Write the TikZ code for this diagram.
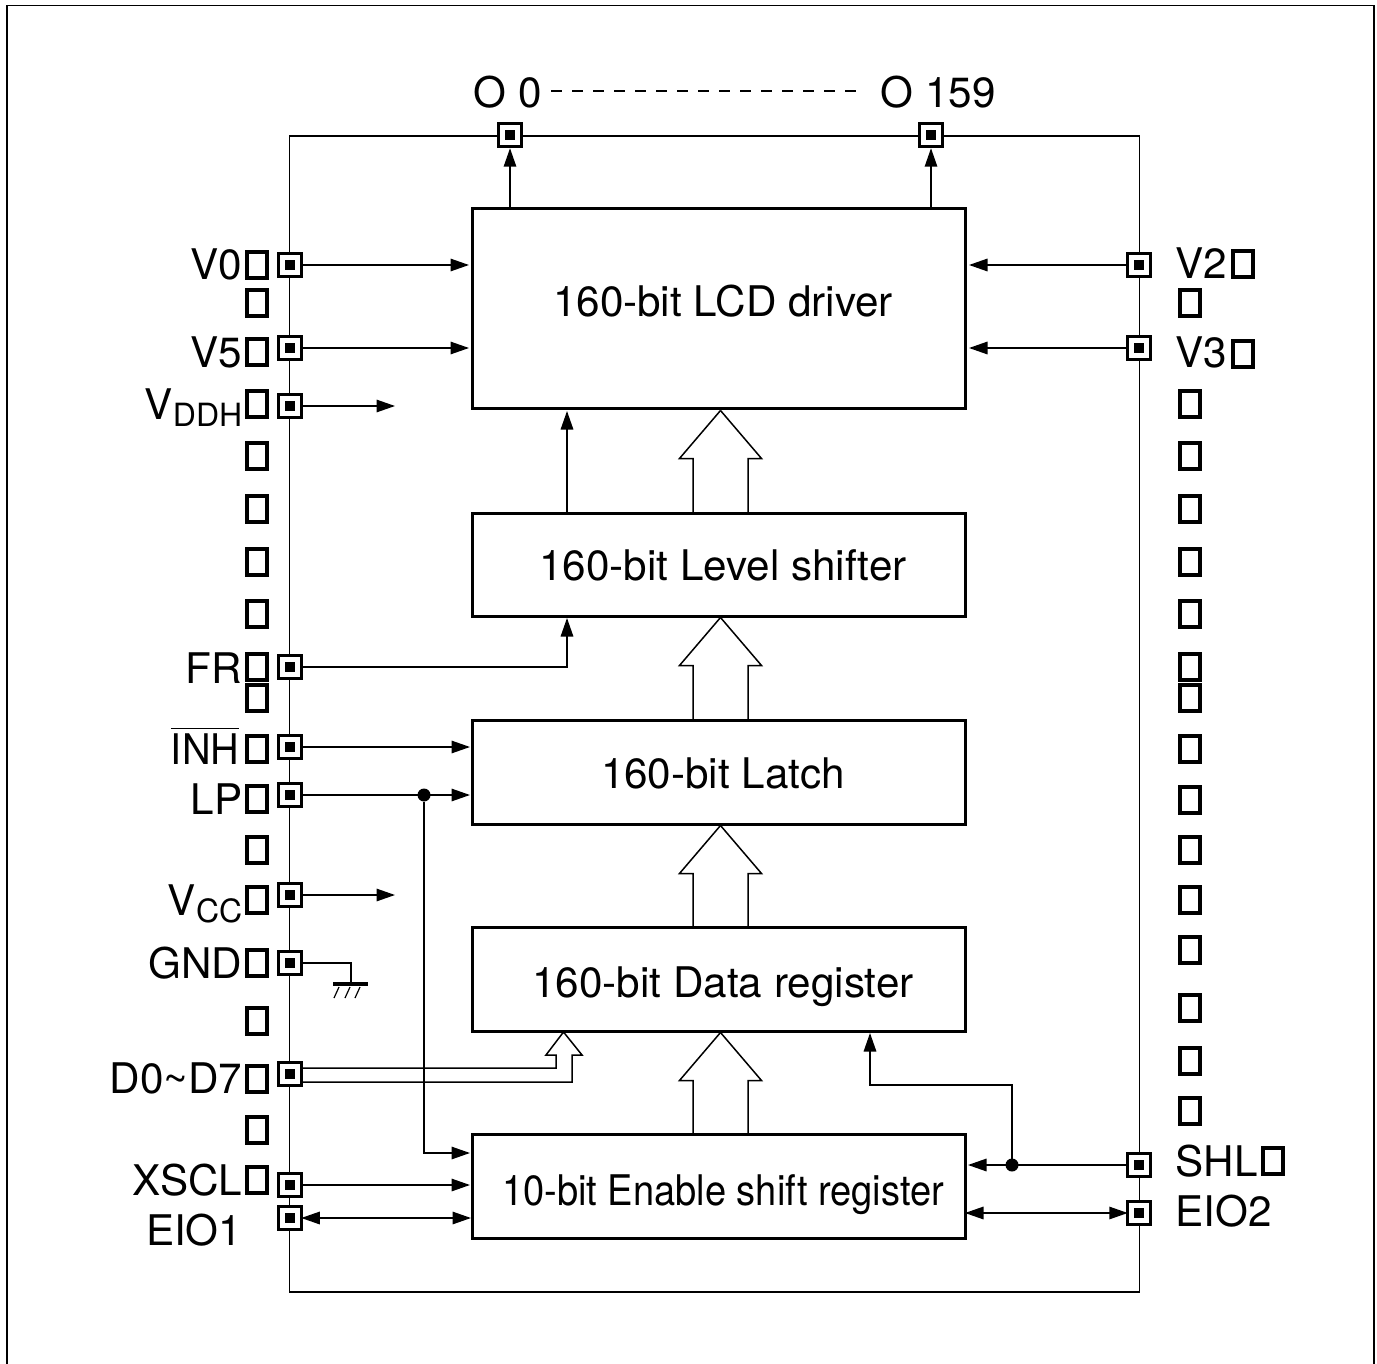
\documentclass[tikz,border=0pt]{standalone}
\usepackage{fontspec}
\setmainfont{TeX Gyre Heros}
\usetikzlibrary{arrows.meta}

\tikzset{
  block/.style={draw, line width=3pt, outer sep=0pt, inner sep=0pt, anchor=north west},
  blocktext/.style={anchor=base, inner sep=0pt},
  pad/.style={draw, fill=white, line width=3pt, minimum size=22.5pt, inner sep=0pt, outer sep=0pt,
    path picture={\fill [black] ([shift={(-5pt,-5pt)}]path picture bounding box.center) rectangle ([shift={(5pt,5pt)}]path picture bounding box.center);}},
  gapbox/.style={draw, line width=3.6pt, minimum width=20pt, minimum height=26pt, inner sep=0pt, outer sep=0pt},
  pinl/.style={anchor=base east, inner sep=0pt},
  pinr/.style={anchor=base west, inner sep=0pt},
  tap/.style={circle, fill, minimum size=13pt, inner sep=0pt, outer sep=0pt},
}

\begin{document}
\begin{tikzpicture}[x=1pt, y=-1pt, line width=1.5pt,
    >={Stealth[inset=0pt, length=18.5pt, width=12.5pt]},
    every node/.append style={font=\fontsize{42.2}{50}\selectfont}]
  \useasboundingbox (0,0) rectangle (1377,1364);

  % page frame and chip outline
  \draw (7,1364) -- (7,5.5) -- (1374,5.5) -- (1374,1364);
  \draw (289.5,136) rectangle (1139.5,1292);

  % blocks
  \node [block, minimum width=493pt, minimum height=200pt] (lcd)    at (472,209)  {};
  \node [block, minimum width=493pt, minimum height=103pt] (level)  at (472,513)  {};
  \node [block, minimum width=493pt, minimum height=104pt] (latch)  at (472,720)  {};
  \node [block, minimum width=493pt, minimum height=104pt] (data)   at (472,927)  {};
  \node [block, minimum width=493pt, minimum height=104pt] (enable) at (472,1134) {};

  \node [blocktext] (lcdtext)    at (723,317)  {160-bit LCD driver};
  \node [blocktext] (leveltext)  at (723,580)  {160-bit Level shifter};
  \node [blocktext] (latchtext)  at (723,788)  {160-bit Latch};
  \node [blocktext] (datatext)   at (723,997)  {160-bit Data register};
  \node [blocktext, xscale=0.902] (enabletext) at (723,1205) {10-bit Enable shift register};

  % pads
  \node [pad] (o0)   at (510,135)   {};
  \node [pad] (o159) at (931,135)   {};
  \node [pad] (v0)   at (290,265)   {};
  \node [pad] (v5)   at (290,348)   {};
  \node [pad] (vddh) at (290,406)   {};
  \node [pad] (fr)   at (290,667)   {};
  \node [pad] (inh)  at (290,747)   {};
  \node [pad] (lp)   at (290,795)   {};
  \node [pad] (vcc)  at (290,895)   {};
  \node [pad] (gnd)  at (290,963)   {};
  \node [pad] (dbus) at (290,1074)  {};
  \node [pad] (xscl) at (290,1185)  {};
  \node [pad] (eio1) at (290,1218)  {};
  \node [pad] (v2)   at (1139,265)  {};
  \node [pad] (v3)   at (1139,348)  {};
  \node [pad] (shl)  at (1139,1165) {};
  \node [pad] (eio2) at (1139,1213) {};

  % pin names
  \node [anchor=base, inner sep=0pt] (o0name)   at (508,108) {O 0};
  \node [anchor=base, inner sep=0pt] (o159name) at (938,108) {O 159};
  \draw [line width=2.4pt, dash pattern=on 11pt off 10pt] (551,91) -- (856.5,91);

  \node [pinl] (v0name)   at (243,280)  {V0};
  \node [pinl] (v5name)   at (243,368)  {V5};
  \node [pinl] (vddhname) at (243,420)  {V\raisebox{-7pt}{\fontsize{32}{38}\selectfont DDH}};
  \node [pinl] (frname)   at (243,683)  {FR};
  \node [pinl, xscale=0.94] (inhname)  at (240,764)  {$\overline{\mbox{\rule{0pt}{34pt}INH}}$};
  \node [pinl] (lpname)   at (243,814)  {LP};
  \node [pinl] (vccname)  at (243,915)  {V\raisebox{-7pt}{\fontsize{32}{38}\selectfont CC}};
  \node [pinl] (gndname)  at (243,978)  {GND};
  \node [pinl] (dname)    at (243,1093) {D0\char`\~D7};
  \node [pinl] (xsclname) at (243,1195) {XSCL};
  \node [pinl] (eio1name) at (243,1245) {EIO1};
  \node [pinr] (v2name)   at (1175,279) {V2};
  \node [pinr] (v3name)   at (1175,368) {V3};
  \node [pinr] (shlname)  at (1175,1176) {SHL};
  \node [pinr] (eio2name) at (1175,1226) {EIO2};

  % empty boxes beside the pins
  \foreach \y in {265,303,352,404,456,509,562,614,667,698,749,799,850,900,963,1021,1079,1130,1180}
    \node [gapbox] at (257,\y) {};
  \foreach \y in {303,404,456,509,562,614,667,698,749,800,850,900,950,1008,1061,1111}
    \node [gapbox] at (1190,\y) {};
  \foreach \y in {264,354}
    \node [gapbox] at (1243,\y) {};
  \node [gapbox] at (1273,1161) {};

  % outputs
  \draw [->, shorten >=2pt] (o0 |- lcd.north) -- (o0.south);
  \draw [->, shorten >=2pt] (o159 |- lcd.north) -- (o159.south);

  % supplies
  \foreach \pin in {v0,v5}
    \draw [->, shorten >=3pt] (\pin.east) -- (\pin.east -| lcd.west);
  \foreach \pin in {v2,v3}
    \draw [->, shorten >=4pt] (\pin.west) -- (\pin.west -| lcd.east);
  \coordinate (stub) at (395,0);
  \draw [->] (vddh.east) -- (vddh.east -| stub);
  \draw [->] (vcc.east) -- (vcc.east -| stub);

  % level shifter to driver, FR
  \coordinate (frx) at (567,0);
  \draw [->, shorten >=2pt] (frx |- level.north) -- (frx |- lcd.south);
  \draw [->, shorten >=2pt] (fr.east) -| (frx |- level.south);

  % latch and shift register inputs
  \node [tap] (lptap) at (424,795) {};
  \coordinate (lpin) at (424,1153);
  \draw [->, shorten >=2pt] (inh.east) -- (inh.east -| latch.west);
  \draw [->, shorten >=2pt] (lp.east) -- (lp.east -| latch.west);
  \draw [->, shorten >=2pt] (lptap) -- (lpin) -- (lpin -| enable.west);
  \draw [->, shorten >=2pt] (xscl.east) -- (xscl.east -| enable.west);
  \draw [<->, shorten >=1pt] (eio1.east) -- (eio1.east -| enable.west);

  % ground
  \coordinate (gndx) at (351,984);
  \draw (gnd.east) -| (gndx);
  \draw [line width=4.5pt] (333,984) -- (368,984);
  \foreach \x in {334,345,355}
    \draw [line width=1.2pt] (\x,998) -- (\x+5,987);

  % right side controls
  \node [tap] (shltap) at (1012,1165) {};
  \coordinate (shlup) at (1012,1085);
  \coordinate (shlin) at (870,1085);
  \draw [->, shorten >=3pt] (shl.west) -- (shl.west -| enable.east);
  \draw [->, shorten >=2pt] (shltap) -- (shlup) -- (shlin) -- (shlin |- data.south);
  \draw [<->] (eio2.west) -- (eio2.west -| enable.east);

  % wide buses between blocks
  \coordinate (busx) at (720.5,0);
  \foreach \from/\to in {level/lcd,latch/level,data/latch,enable/data} {
    \coordinate (tip) at ([yshift=-1.5pt]busx |- \to.south);
    \draw (tip) -- ++(41,48) -- ++(-13.5,0) -- (748,0 |- \from.north);
    \draw (tip) -- ++(-41,48) -- ++(13.5,0) -- (693,0 |- \from.north);
  }

  % data input bus
  \coordinate (dtip) at (563.5,1032);
  \draw ([yshift=6pt]dbus.east) -- (556,1068) -- (556,1055) -- (546,1055) -- (dtip)
    -- (582,1055) -- (572,1055) -- (572,1082) -- ([yshift=-8pt]dbus.east);
\end{tikzpicture}
\end{document}
